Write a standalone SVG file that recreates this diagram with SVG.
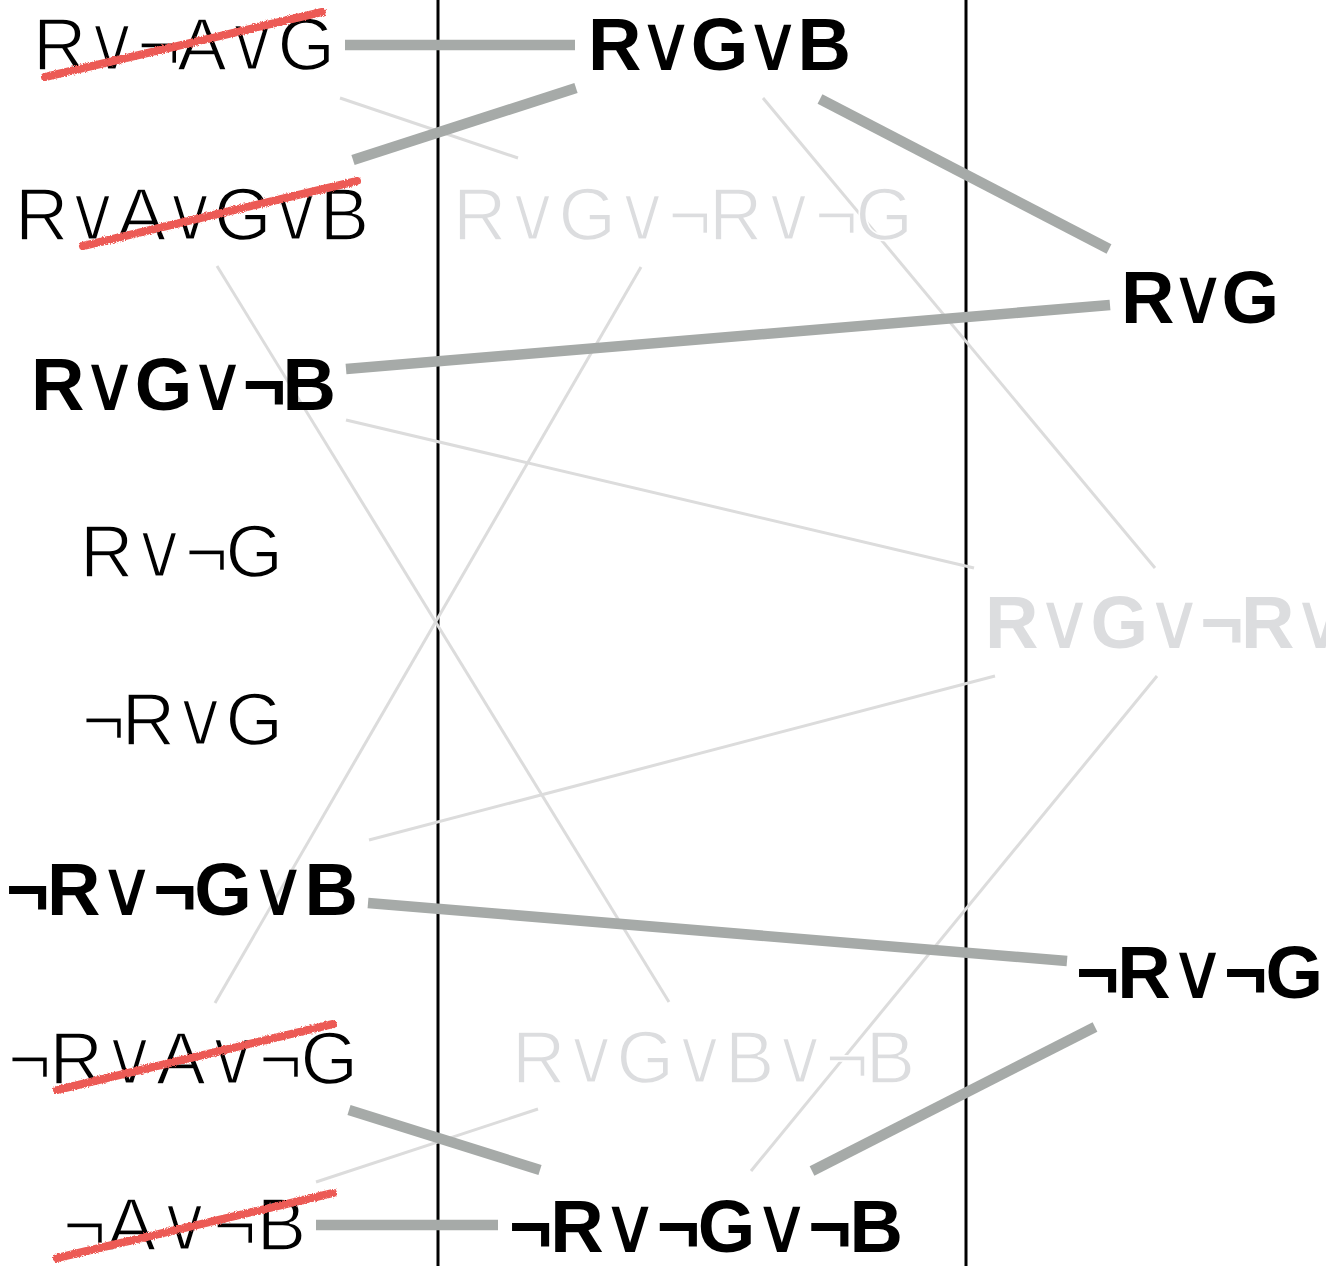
<svg xmlns="http://www.w3.org/2000/svg" width="1326" height="1266" viewBox="0 0 1326 1266">
  <style>
    .lbl { font-family: "Liberation Sans", Arial, Helvetica, sans-serif; font-size: 74px; }
    .lt { font-weight: normal; fill: #000; stroke: #fff; stroke-width: 1.6; }
    .bd { font-weight: bold; fill: #000; }
    .ghost { fill: #dcdddf; }
    .or { font-family: "DejaVu Sans", sans-serif; font-weight: normal; font-size: 78px; stroke: none; }
    .lt .or { stroke: #fff; stroke-width: 3; }
    .strong { stroke: #a6aaa8; stroke-width: 10.5; fill: none; }
    .weak { stroke: #dcdcdc; stroke-width: 3; fill: none; }
    .divider { stroke: #000; stroke-width: 3; }
    .strike { stroke: #ec5a55; stroke-width: 8; stroke-linecap: round; fill: none; filter: url(#crayon); }
  </style>
  <defs>
    <filter id="crayon" x="-5%" y="-50%" width="110%" height="200%">
      <feTurbulence type="fractalNoise" baseFrequency="0.9" numOctaves="2" seed="3" result="n"/>
      <feDisplacementMap in="SourceGraphic" in2="n" scale="3.5" xChannelSelector="R" yChannelSelector="G"/>
    </filter>
  </defs>
  <rect width="1326" height="1266" fill="#fff"/>

  <!-- column dividers -->
  <g id="dividers">
    <line class="divider" x1="438" y1="0" x2="438" y2="1266"/>
    <line class="divider" x1="966" y1="0" x2="966" y2="1266"/>
  </g>

  <!-- links between clauses -->
  <g id="connectors">
    <line class="weak" x1="340" y1="98" x2="518" y2="158"/>
    <line class="weak" x1="763" y1="98" x2="1155" y2="568"/>
    <line class="weak" x1="217" y1="266" x2="669" y2="1002"/>
    <line class="weak" x1="641" y1="267" x2="215" y2="1003"/>
    <line class="weak" x1="346" y1="420" x2="974" y2="568"/>
    <line class="weak" x1="369" y1="840" x2="995" y2="676"/>
    <line class="weak" x1="1157" y1="676" x2="751" y2="1171"/>
    <line class="weak" x1="316" y1="1182" x2="538" y2="1109"/>

    <line class="strong" x1="345" y1="45" x2="575" y2="45"/>
    <line class="strong" x1="353" y1="160" x2="576" y2="88"/>
    <line class="strong" x1="820" y1="99" x2="1109" y2="249"/>
    <line class="strong" x1="346" y1="369" x2="1110" y2="305"/>
    <line class="strong" x1="368" y1="903" x2="1067" y2="961"/>
    <line class="strong" x1="349" y1="1110" x2="540" y2="1170"/>
    <line class="strong" x1="316" y1="1225" x2="498" y2="1225"/>
    <line class="strong" x1="812" y1="1171" x2="1095" y2="1027"/>
  </g>

  <!-- first column -->
  <g id="c1">
    <text class="lbl lt" x="33" y="70" textLength="302" lengthAdjust="spacing">R<tspan class="or">∨</tspan>¬A<tspan class="or">∨</tspan>G</text>
    <line class="strike" x1="45" y1="77" x2="322" y2="12"/>
  </g>
  <g id="c2">
    <text class="lbl lt" x="15" y="240" textLength="354" lengthAdjust="spacing">R<tspan class="or">∨</tspan>A<tspan class="or">∨</tspan>G<tspan class="or">∨</tspan>B</text>
    <line class="strike" x1="83" y1="246" x2="357" y2="181"/>
  </g>
  <g id="c3">
    <text class="lbl bd" x="31" y="410" textLength="305" lengthAdjust="spacing">R<tspan class="or">∨</tspan>G<tspan class="or">∨</tspan>¬B</text>
  </g>
  <g id="c4">
    <text class="lbl lt" x="80" y="577" textLength="203" lengthAdjust="spacing">R<tspan class="or">∨</tspan>¬G</text>
  </g>
  <g id="c5">
    <text class="lbl lt" x="82" y="745" textLength="201" lengthAdjust="spacing">¬R<tspan class="or">∨</tspan>G</text>
  </g>
  <g id="c6">
    <text class="lbl bd" x="6" y="915" textLength="352" lengthAdjust="spacing">¬R<tspan class="or">∨</tspan>¬G<tspan class="or">∨</tspan>B</text>
  </g>
  <g id="c7">
    <text class="lbl lt" x="8" y="1084" textLength="350" lengthAdjust="spacing">¬R<tspan class="or">∨</tspan>A<tspan class="or">∨</tspan>¬G</text>
    <line class="strike" x1="57" y1="1090" x2="333" y2="1024"/>
  </g>
  <g id="c8">
    <text class="lbl lt" x="63" y="1250" textLength="243" lengthAdjust="spacing">¬A<tspan class="or">∨</tspan>¬B</text>
    <line class="strike" x1="57" y1="1258" x2="333" y2="1193"/>
  </g>

  <!-- second column -->
  <g id="r1">
    <text class="lbl bd" x="588" y="70" textLength="263" lengthAdjust="spacing">R<tspan class="or">∨</tspan>G<tspan class="or">∨</tspan>B</text>
  </g>
  <g id="r2">
    <text class="lbl lt ghost" x="453" y="240" textLength="460" lengthAdjust="spacing">R<tspan class="or">∨</tspan>G<tspan class="or">∨</tspan>¬R<tspan class="or">∨</tspan>¬G</text>
  </g>
  <g id="r3">
    <text class="lbl lt ghost" x="512" y="1083" textLength="403" lengthAdjust="spacing">R<tspan class="or">∨</tspan>G<tspan class="or">∨</tspan>B<tspan class="or">∨</tspan>¬B</text>
  </g>
  <g id="r4">
    <text class="lbl bd" x="509" y="1252" textLength="394" lengthAdjust="spacing">¬R<tspan class="or">∨</tspan>¬G<tspan class="or">∨</tspan>¬B</text>
  </g>

  <!-- third column -->
  <g id="s1">
    <text class="lbl bd" x="1121" y="323" textLength="158" lengthAdjust="spacing">R<tspan class="or">∨</tspan>G</text>
  </g>
  <g id="s2">
    <text class="lbl bd ghost" x="985" y="648" textLength="460" lengthAdjust="spacing">R<tspan class="or">∨</tspan>G<tspan class="or">∨</tspan>¬R<tspan class="or">∨</tspan>¬G</text>
  </g>
  <g id="s3">
    <text class="lbl bd" x="1076" y="998" textLength="247" lengthAdjust="spacing">¬R<tspan class="or">∨</tspan>¬G</text>
  </g>
</svg>
